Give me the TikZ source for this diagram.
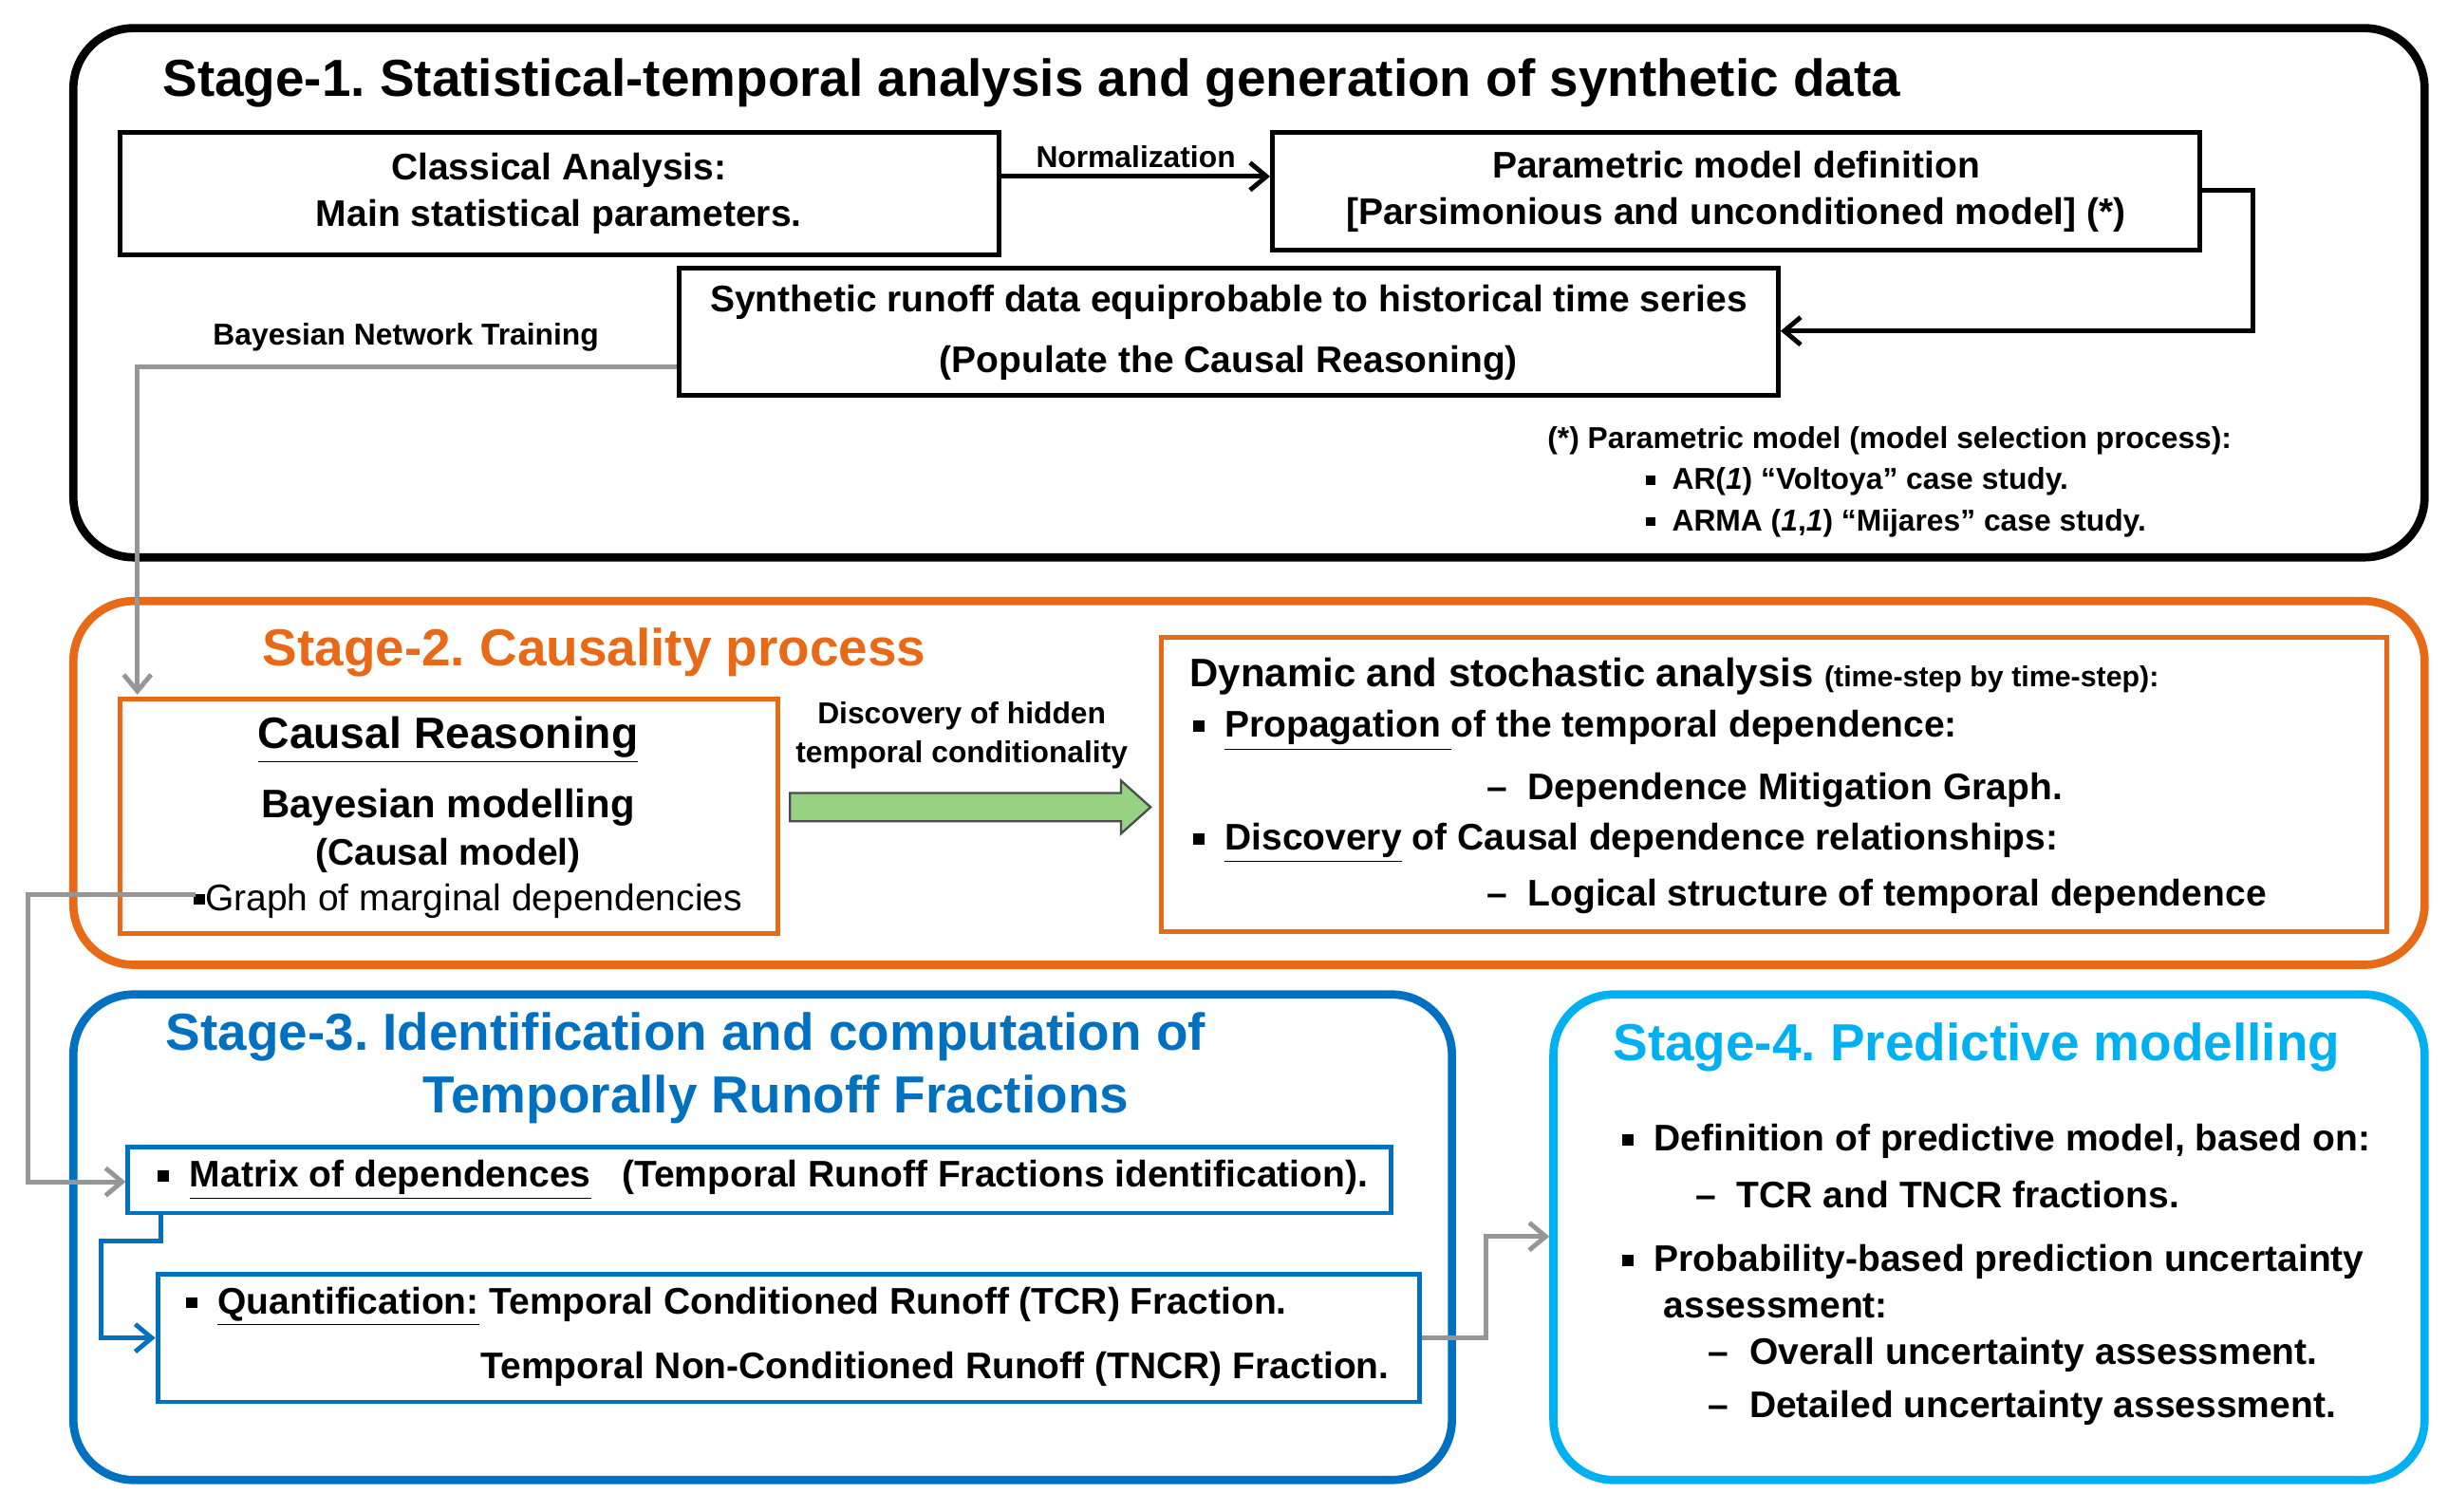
\documentclass[tikz,border=0pt]{standalone}
\usepackage{fontspec}
\setmainfont{Liberation Sans}
\frenchspacing
\usetikzlibrary{fit,arrows.meta}
\definecolor{orng}{RGB}{232,106,22}
\definecolor{blu}{RGB}{0,112,192}
\definecolor{lblu}{RGB}{0,176,240}
\definecolor{grn}{RGB}{150,210,130}
\definecolor{gry}{RGB}{150,150,150}
\newcommand{\sqb}{\rule[0.15em]{0.3em}{0.3em}}
\begin{document}
\begin{tikzpicture}[x=0.02cm,y=-0.02cm,font=\bfseries,
 stage/.style={draw,line width=3pt,rounded corners=22pt,inner sep=0pt},
 box/.style={draw,line width=1.7pt,inner sep=0pt},
 big/.style={font=\fontsize{19}{22}\selectfont\bfseries},
 mid/.style={font=\fontsize{13.5}{17}\selectfont\bfseries},
 sml/.style={font=\fontsize{11}{14}\selectfont\bfseries},
 arr/.style={line width=1.7pt,-{Straight Barb[length=6pt,width=10pt]}},
 garr/.style={gry,line width=1.7pt,-{Straight Barb[length=6pt,width=10pt]}}]
\useasboundingbox (0,0) rectangle (1568,968);
% Stage 1
\node[stage,fit={(47,18)(1553,357)}] (s1) {};
\node[big,anchor=west] (t1) at (98,53) {Stage-1. Statistical-temporal analysis and generation of synthetic data};
\node[box,fit={(77,85)(640,163)}] (a) {};
\node[mid,align=center] (at) at (358,124) {Classical Analysis:\\Main statistical parameters.};
\node[box,fit={(815,85)(1409,160)}] (b) {};
\node[mid,align=center] (bt) at (1112,123) {Parametric model definition\\{[}Parsimonious and unconditioned model{]} (*)};
\node[box,fit={(435,172)(1139,253)}] (c) {};
\node[mid,align=center] (ct) at (787,213) {Synthetic runoff data equiprobable to historical time series\\[5pt](Populate the Causal Reasoning)};
\draw[arr] (a.east|-0,113) -- node[sml,above=-1pt] {Normalization} (b.west|-0,113);
\coordinate (b1) at (1443,122);
\draw[arr] (b.east|-b1) -- (b1) -- (1443,212) -- (c.east|-0,212);
\node[sml] (bnt) at (260,216) {Bayesian Network Training};
\node[sml,anchor=north west,align=left] (note) at (985,267) {(*) Parametric model (model selection process):\\[1pt]
\hspace*{36pt}\sqb\ \ AR(\textit{1}) “Voltoya” case study.\\[1pt]
\hspace*{36pt}\sqb\ \ ARMA (\textit{1},\textit{1}) “Mijares” case study.};
% Stage 2
\node[stage,orng,fit={(47,385)(1553,618)}] (s2) {};
\node[big,orng,anchor=west] (t2) at (162,418) {Stage-2. Causality process};
\node[box,orng,fit={(77,448)(498,598)}] (cr) {};
\node[font=\fontsize{16}{18}\selectfont\bfseries] (crt) at (287,474) {\underline{Causal Reasoning}};
\node[font=\fontsize{14.5}{16}\selectfont\bfseries] (bm) at (287,517) {Bayesian modelling};
\node[mid] (cm) at (287,548) {(Causal model)};
\node[font=\fontsize{13.5}{15}\selectfont,anchor=west] (gm) at (118,577) {\sqb Graph of marginal dependencies};
\draw[draw=black!70,fill=grn,line width=0.8pt] (506,508) -- (718,508) -- (718,500) -- (737,517) -- (718,534) -- (718,526) -- (506,526) -- cycle;
\coordinate (ga) at (621,517);
\node[sml,align=center] (gat) at (616,471) {Discovery of hidden\\temporal conditionality};
\node[box,orng,fit={(744,408)(1529,597)}] (dy) {};
\node[mid,anchor=west] (d1) at (756,433) {\fontsize{14.5}{16}\selectfont Dynamic and stochastic analysis \fontsize{10.5}{12}\selectfont(time-step by time-step):};
\node[mid,anchor=west] (d2) at (758,468) {\sqb\ \ \underline{Propagation }of the temporal dependence:};
\node[mid,anchor=west] (d3) at (946,506) {--\ \ Dependence Mitigation Graph.};
\node[mid,anchor=west] (d4) at (758,540) {\sqb\ \ \underline{Discovery} of Causal dependence relationships:};
\node[mid,anchor=west] (d5) at (946,574) {--\ \ Logical structure of temporal dependence};
% Stage 3
\node[stage,blu,fit={(47,637)(930,948)}] (s3) {};
\node[big,blu,anchor=west] (t3) at (100,664) {Stage-3. Identification and computation of};
\node[big,blu] (t3b) at (497,704) {Temporally Runoff Fractions};
\node[box,blu,fit={(82,735)(891,777)}] (m) {};
\node[mid,anchor=west] (mt) at (95,756) {\sqb\ \ \underline{Matrix of dependences}\ \ \ (Temporal Runoff Fractions identification).};
\node[box,blu,fit={(101,816)(909,898)}] (q) {};
\node[mid,anchor=west] (qt) at (113,837) {\sqb\ \ \underline{Quantification:} Temporal Conditioned Runoff (TCR) Fraction.};
\node[mid,anchor=east] (qt2) at (896,877) {Temporal Non-Conditioned Runoff (TNCR) Fraction.};
\draw[arr,blu] (103,777) -- (103,795) -- (65,795) -- (65,857) -- (q.west|-0,857);
% Stage 4
\node[stage,lblu,fit={(995,637)(1553,948)}] (s4) {};
\node[big,lblu] (t4) at (1266,671) {Stage-4. Predictive modelling};
\node[mid,anchor=west,align=left] (p1) at (1033,731) {\sqb\ \ Definition of predictive model, based on:};
\node[mid,anchor=west] (p2) at (1080,765) {--\ \ TCR and TNCR fractions.};
\node[mid,anchor=north west,align=left] (p3) at (1033,791) {\sqb\ \ Probability-based prediction uncertainty\\\hspace*{0pt}\ \ \ \ assessment:};
\node[mid,anchor=west] (p4) at (1088,868) {--\ \ Overall uncertainty assessment.};
\node[mid,anchor=west] (p5) at (1088,902) {--\ \ Detailed uncertainty assessment.};
% gray connectors
\draw[garr] (c.west|-0,235) -- (88,235) -- (88,445);
\draw[garr] (125,573) -- (18,573) -- (18,757) -- (m.west|-0,757);
\draw[garr] (q.east|-0,857) -- (952,857) -- (952,792) -- (s4.west|-0,792);
\end{tikzpicture}
\end{document}
